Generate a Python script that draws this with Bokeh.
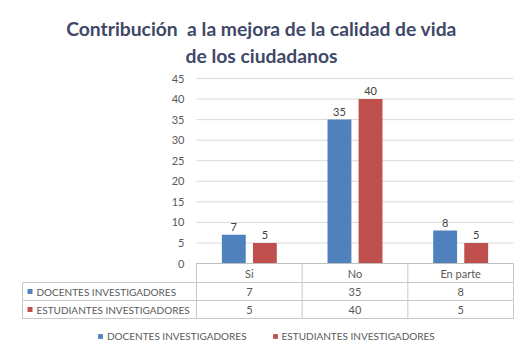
from bokeh.plotting import figure
from bokeh.models import Range1d, FixedTicker, Legend, LegendItem, LinearAxis
from bokeh.embed import file_html
from bokeh.resources import INLINE
from bokeh.core.properties import value

TITLE_1 = "Contribución\u00a0 a la mejora de la calidad de vida"
TITLE_2 = "de los ciudadanos"
CATEGORIES = ["Si", "No", "En parte"]
SERIES = ["DOCENTES INVESTIGADORES", "ESTUDIANTES INVESTIGADORES"]
DOCENTES = [7, 35, 8]
ESTUDIANTES = [5, 40, 5]
Y_TICKS = [0, 5, 10, 15, 20, 25, 30, 35, 40, 45]
COLORS = ["#4F81BD", "#C0504D"]

VALUES = [DOCENTES, ESTUDIANTES]
FONT = "Lato"
GREY_TXT = "#595959"
LINE = "#c8c8c8"
TITLE_COLOR = "#3F4868"

W, H = 514, 341
PLOT_L, PLOT_R = 196, 513          # pixel edges of the bar area
PLOT_T, PLOT_B = 78, 263           # pixel rows of 45 and 0
n = len(CATEGORIES)
idx = list(range(n))
PX = (PLOT_R - PLOT_L) / n
PY = (PLOT_B - PLOT_T) / (Y_TICKS[-1] - Y_TICKS[0])

x_range = Range1d(-0.5 - PLOT_L / PX, n - 0.5 + (W - PLOT_R) / PX)
y_range = Range1d(Y_TICKS[0] - (H - PLOT_B) / PY, Y_TICKS[-1] + PLOT_T / PY)

p = figure(width=W, height=H, x_range=x_range, y_range=y_range,
           output_backend="svg", toolbar_location=None, tools="",
           min_border=0, x_axis_location=None, y_axis_location=None,
           outline_line_color=None, title=None)
p.grid.visible = False
p.extra_x_ranges = {"px": Range1d(0, W)}
p.extra_y_ranges = {"px": Range1d(H, 0)}

# gridlines
p.segment(x0=[-0.5] * len(Y_TICKS), x1=[n - 0.5] * len(Y_TICKS), y0=Y_TICKS, y1=Y_TICKS,
          line_color="#d9d9d9", line_width=1)

# y axis (values)
ya = LinearAxis(fixed_location=-0.5, ticker=FixedTicker(ticks=Y_TICKS))
ya.major_tick_out = 0
ya.major_tick_in = 0
ya.minor_tick_out = 0
ya.minor_tick_in = 0
ya.axis_line_color = None
ya.major_label_standoff = 12
ya.major_label_text_font = FONT
ya.major_label_text_font_size = "11px"
ya.major_label_text_color = GREY_TXT
p.add_layout(ya, "left")

# x axis = table header row
xa = LinearAxis(fixed_location=0, bounds=(-0.5, n - 0.5), ticker=FixedTicker(ticks=idx))
xa.major_label_overrides = {i: c for i, c in enumerate(CATEGORIES)}
xa.major_tick_out = 0
xa.major_tick_in = 0
xa.minor_tick_in = 0
xa.minor_tick_out = 0
xa.axis_line_color = "#bfbfbf"
xa.major_label_standoff = 3
xa.major_label_text_font = FONT
xa.major_label_text_font_size = "11px"
xa.major_label_text_color = GREY_TXT
p.add_layout(xa, "below")

# bars + data labels
OFFS = [-0.147, 0.147]
bar_renderers = []
for vals, col, off in zip(VALUES, COLORS, OFFS):
    xs = [i + off for i in idx]
    r = p.vbar(x=xs, top=vals, width=0.226, fill_color=col, line_color=None)
    bar_renderers.append(r)
    p.text(x=xs, y=vals, text=[str(v) for v in vals], y_offset=-4,
           text_align="center", text_baseline="bottom", text_font=value(FONT),
           text_font_size="11px", text_color="#404040")

# title
p.text(x=[261, 261], y=[28, 55], text=[TITLE_1, TITLE_2], x_range_name="px", y_range_name="px",
       text_align="center", text_baseline="alphabetic", text_font=value(FONT),
       text_font_style="bold", text_font_size="19.3px", text_color=TITLE_COLOR)

# data table
HEADER_TOP = 263
ROW_LINES = [282, 300, 318]
ROW_CENTERS = [291, 309]
x_left = -0.5 - (PLOT_L - 22) / PX
p.segment(x0=[x_left] * 3, x1=[n - 0.5] * 3, y0=ROW_LINES, y1=ROW_LINES,
          line_color=LINE, y_range_name="px")
vx = [i - 0.5 for i in range(n + 1)]
p.segment(x0=vx, x1=vx, y0=[HEADER_TOP] * len(vx), y1=[ROW_LINES[-1]] * len(vx),
          line_color=LINE, y_range_name="px")
p.segment(x0=[x_left], x1=[x_left], y0=[ROW_LINES[0]], y1=[ROW_LINES[-1]],
          line_color=LINE, y_range_name="px")

for yc, vals, col, name in zip(ROW_CENTERS, VALUES, COLORS, SERIES):
    p.text(x=idx, y=[yc] * n, text=[str(v) for v in vals], y_range_name="px",
           text_align="center", text_baseline="middle", text_font=value(FONT),
           text_font_size="11px", text_color=GREY_TXT)
    p.rect(x=[29.5], y=[yc], width=5, height=5, x_range_name="px", y_range_name="px",
           fill_color=col, line_color=None)
    p.text(x=[36], y=[yc], text=[name], x_range_name="px", y_range_name="px",
           text_align="left", text_baseline="middle", text_font=value(FONT),
           text_font_size="10px", text_color=GREY_TXT)

# legend
items = [LegendItem(label=name, renderers=[r]) for name, r in zip(SERIES, bar_renderers)]
legend = Legend(items=items, orientation="horizontal", location=(97, -1),
                glyph_width=6, glyph_height=6, label_standoff=4, spacing=25,
                padding=0, margin=0, border_line_color=None, background_fill_alpha=0,
                label_text_font=FONT, label_text_font_size="10px",
                label_text_color=GREY_TXT, label_height=12)
p.add_layout(legend, "center")

open("out.html", "w").write(file_html(p, INLINE))
